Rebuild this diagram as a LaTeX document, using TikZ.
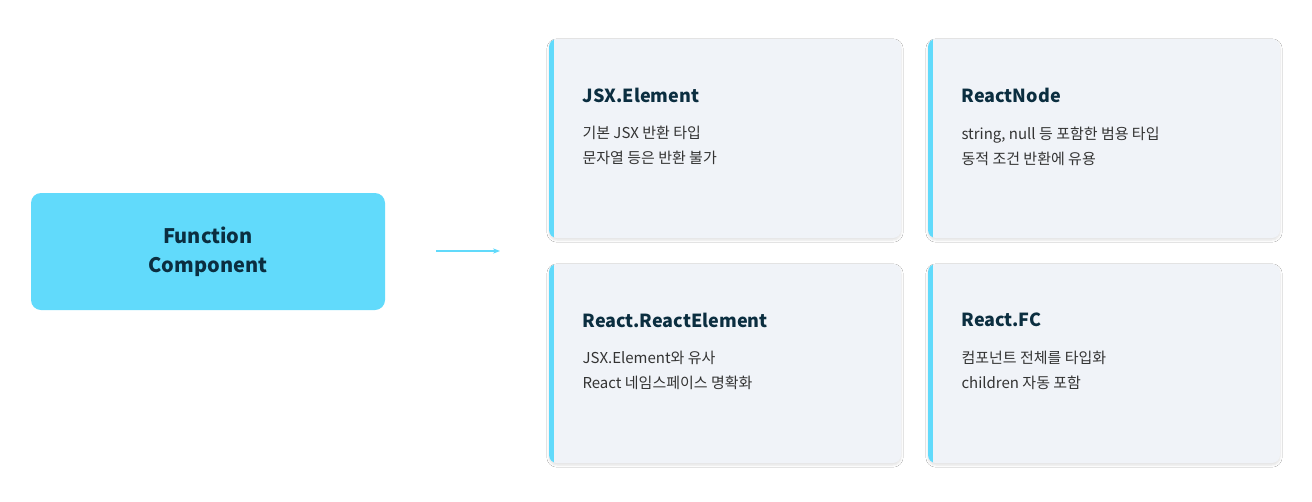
\documentclass[tikz,border=0pt]{standalone}
\usepackage{fontspec}
\setmainfont{Noto Sans CJK KR}
\newfontfamily\krb[BoldFont={Noto Sans CJK KR Bold}]{Noto Sans CJK KR}
\usetikzlibrary{shadows.blur,arrows.meta}
\definecolor{cyanc}{HTML}{61DAFB}
\definecolor{cardbg}{HTML}{F0F3F8}
\definecolor{titlec}{HTML}{0B2E40}
\definecolor{bodyc}{HTML}{333333}
\begin{document}
\begin{tikzpicture}[x=1pt,y=-1pt,
  card/.style={fill=cardbg,rounded corners=8pt,blur shadow={shadow blur steps=6,shadow xshift=0pt,shadow yshift=-2pt,shadow opacity=12}},
  ctitle/.style={anchor=west,text=titlec,font=\fontsize{18}{22}\selectfont\bfseries},
  cbody/.style={anchor=north west,text=bodyc,align=left,font=\fontsize{15}{25}\selectfont}]
\useasboundingbox[fill=white] (0,0) rectangle (1312,501);
\node[fill=cyanc,rounded corners=10pt,minimum width=354pt,minimum height=117pt,text=titlec,align=center,font=\fontsize{20}{29}\selectfont\bfseries] (fc) at (208,251.5) {Function\\Component};
\coordinate (a1) at (436,251); \coordinate (a2) at (500,251);
\draw[cyanc,line width=2pt,-{Stealth[length=7pt]}] (a1) -- (a2);
\foreach \n/\x/\y/\t/\la/\lb in {
 c1/549/39/JSX.Element/기본 JSX 반환 타입/문자열 등은 반환 불가,
 c2/928/39/ReactNode/{string, null 등 포함한 범용 타입}/동적 조건 반환에 유용,
 c3/549/264/React.ReactElement/JSX.Element와 유사/React 네임스페이스 명확화,
 c4/928/264/React.FC/컴포넌트 전체를 타입화/children 자동 포함}{
  \begin{scope}
  \path[card] (\x,\y) rectangle ++(352,199);
  \clip[rounded corners=8pt] (\x,\y) rectangle ++(352,199);
  \fill[cyanc] (\x,\y) rectangle ++(5,199);
  \end{scope}
  \node[ctitle] (\n t) at (\x+30,\y+56) {\t};
  \node[cbody] (\n b) at (\x+30,\y+84) {\la\\\lb};
}
\end{tikzpicture}
\end{document}
